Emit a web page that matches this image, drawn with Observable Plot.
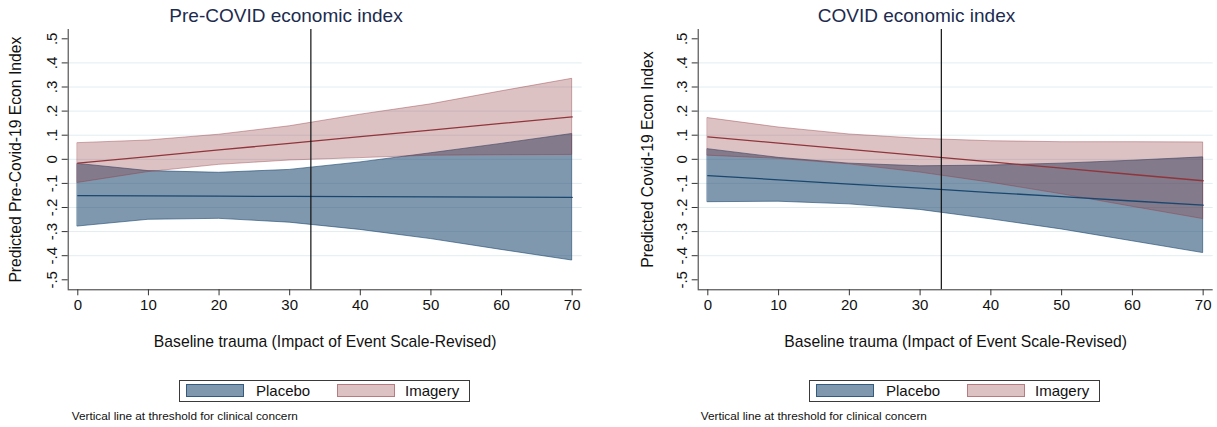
<!DOCTYPE html>
<html>
<head>
<meta charset="utf-8">
<script src="https://cdn.jsdelivr.net/npm/d3@7"></script>
<script src="https://cdn.jsdelivr.net/npm/@observablehq/plot@0.6"></script>
<style>
  body { margin: 0; background: #fff; font-family: "Liberation Sans", Arial, Helvetica, sans-serif; }
  #root { position: relative; width: 1217px; height: 427px; overflow: hidden; background: #fff; }
  .panel { position: absolute; top: 0; }
  .legend { position: absolute; top: 380px; width: 291px; height: 22px; border: 1px solid #3a3a3a; box-sizing: border-box; }
  .sw { position: absolute; top: 3px; width: 58px; height: 13px; box-sizing: border-box; }
  .lt { position: absolute; top: 0; line-height: 19px; font-size: 15px; color: #111; }
  .caption { position: absolute; top: 409px; font-size: 11.8px; color: #111; white-space: nowrap; }
</style>
</head>
<body>
<div id="root"></div>
<script>
// ---- data ----
const xs = [0, 10, 20, 30, 40, 50, 60, 70];
const xTicks = [0, 10, 20, 30, 40, 50, 60, 70];
const yTicks = [-0.5, -0.4, -0.3, -0.2, -0.1, 0, 0.1, 0.2, 0.3, 0.4, 0.5];
const yTickLabels = ["-.5", "-.4", "-.3", "-.2", "-.1", "0", ".1", ".2", ".3", ".4", ".5"];
const yGrid = [-0.4, -0.3, -0.2, -0.1, 0, 0.1, 0.2, 0.3, 0.4];
const threshold = 33;
const seriesNames = ["Placebo", "Imagery"];

// Pre-COVID economic index
const prePlaceboMean  = [-0.151, -0.152, -0.153, -0.154, -0.155, -0.156, -0.157, -0.158];
const prePlaceboUpper = [-0.019, -0.049, -0.056, -0.044, -0.013, 0.025, 0.064, 0.105];
const prePlaceboLower = [-0.279, -0.251, -0.247, -0.263, -0.293, -0.331, -0.376, -0.420];
const preImageryMean  = [-0.016, 0.011, 0.039, 0.066, 0.094, 0.121, 0.149, 0.176];
const preImageryUpper = [0.067, 0.078, 0.102, 0.137, 0.185, 0.228, 0.282, 0.334];
const preImageryLower = [-0.098, -0.053, -0.023, -0.005, 0.005, 0.015, 0.017, 0.018];

// COVID economic index
const covPlaceboMean  = [-0.068, -0.085, -0.103, -0.120, -0.138, -0.155, -0.173, -0.190];
const covPlaceboUpper = [0.042, 0.006, -0.018, -0.029, -0.026, -0.018, -0.006, 0.008];
const covPlaceboLower = [-0.178, -0.176, -0.187, -0.210, -0.249, -0.291, -0.340, -0.389];
const covImageryMean  = [0.093, 0.067, 0.041, 0.015, -0.011, -0.037, -0.063, -0.089];
const covImageryUpper = [0.171, 0.132, 0.103, 0.085, 0.075, 0.071, 0.071, 0.070];
const covImageryLower = [0.015, 0.002, -0.021, -0.055, -0.097, -0.145, -0.197, -0.248];

const titles = ["Pre-COVID economic index", "COVID economic index"];
const yLabels = ["Predicted Pre-Covid-19 Econ Index", "Predicted Covid-19 Econ Index"];
const xLabel = "Baseline trauma (Impact of Event Scale-Revised)";
const captionText = "Vertical line at threshold for clinical concern";

// ---- style ----
const navy = "#1a476f";
const maroon = "#90353b";
const titleColor = "#1c2b4e";
const font = '"Liberation Sans", Arial, Helvetica, sans-serif';
const xDomain = [-1.36, 71.42];
const yDomain = [-0.5415, 0.5386];

function rows(mean, lo, hi) {
  return xs.map((x, i) => ({ x, m: mean[i], lo: lo[i], hi: hi[i] }));
}

function panel(cfg) {
  const placebo = rows(cfg.pm, cfg.pl, cfg.pu);
  const imagery = rows(cfg.im, cfg.il, cfg.iu);
  return Plot.plot({
    width: cfg.width,
    height: 360,
    marginLeft: 67.7,
    marginRight: cfg.marginRight,
    marginTop: 29,
    marginBottom: 70.7,
    x: { domain: xDomain, axis: null },
    y: { domain: yDomain, axis: null },
    style: { fontFamily: font, background: "transparent", color: "#111", overflow: "visible" },
    marks: [
      Plot.gridY(yGrid, { stroke: "#e2edf0", strokeOpacity: 1, strokeWidth: 1 }),
      Plot.areaY(placebo, { x: "x", y1: "lo", y2: "hi", fill: navy, fillOpacity: 0.56, stroke: navy, strokeOpacity: 0.6, strokeWidth: 1 }),
      Plot.areaY(imagery, { x: "x", y1: "lo", y2: "hi", fill: maroon, fillOpacity: 0.3, stroke: maroon, strokeOpacity: 0.4, strokeWidth: 1 }),
      Plot.lineY(placebo, { x: "x", y: "m", stroke: navy, strokeWidth: 1.3 }),
      Plot.lineY(imagery, { x: "x", y: "m", stroke: maroon, strokeWidth: 1.3 }),
      Plot.ruleX([threshold], { stroke: "#111", strokeWidth: 1.2 }),
      Plot.ruleX([xDomain[0]], { stroke: "#333", strokeWidth: 1 }),
      Plot.ruleY([yDomain[0]], { stroke: "#333", strokeWidth: 1 }),
      Plot.axisX(xTicks, { tickSize: 6, tickPadding: 4, fontSize: 15, label: null, stroke: "#333" }),
      Plot.axisY(yTicks, { tickSize: 6, tickFormat: () => "", label: null, stroke: "#333" }),
      Plot.text(yTicks, { y: d => d, text: (d, i) => yTickLabels[i], frameAnchor: "left", dx: -15.7, rotate: -90, fontSize: 15, textAnchor: "middle", lineAnchor: "middle" }),
      Plot.text([cfg.ylabel], { text: d => d, frameAnchor: "left", dx: cfg.ylabDx, rotate: -90, fontSize: 15.7, textAnchor: "middle", lineAnchor: "middle" }),
      Plot.text([xLabel], { text: d => d, frameAnchor: "bottom", dy: 52.4, fontSize: 15.7, lineAnchor: "middle" }),
      Plot.text([cfg.title], { text: d => d, frameAnchor: "top", dx: -39.2, dy: -14, fontSize: 19, fill: titleColor, lineAnchor: "middle" })
    ]
  });
}

const root = document.getElementById("root");
const configs = [
  { left: 0, width: 600, marginRight: 18.3, title: titles[0], ylabel: yLabels[0], ylabDx: -52.7,
    pm: prePlaceboMean, pl: prePlaceboLower, pu: prePlaceboUpper,
    im: preImageryMean, il: preImageryLower, iu: preImageryUpper, capLeft: 71.7 },
  { left: 630, width: 587, marginRight: 4.3, title: titles[1], ylabel: yLabels[1], ylabDx: -50.7,
    pm: covPlaceboMean, pl: covPlaceboLower, pu: covPlaceboUpper,
    im: covImageryMean, il: covImageryLower, iu: covImageryUpper, capLeft: 70.7 }
];

for (const cfg of configs) {
  const div = document.createElement("div");
  div.className = "panel";
  div.style.left = cfg.left + "px";
  div.appendChild(panel(cfg));
  root.appendChild(div);

  const lg = document.createElement("div");
  lg.className = "legend";
  lg.style.left = (cfg.left + 179) + "px";
  const items = [
    { name: seriesNames[0], fill: "rgba(26,71,111,0.56)", border: "rgba(26,71,111,0.75)", sx: 6, tx: 76 },
    { name: seriesNames[1], fill: "rgba(144,53,59,0.3)", border: "rgba(144,53,59,0.5)", sx: 157, tx: 225 }
  ];
  for (const it of items) {
    const sw = document.createElement("div");
    sw.className = "sw";
    sw.style.left = it.sx + "px";
    sw.style.background = it.fill;
    sw.style.border = "1px solid " + it.border;
    lg.appendChild(sw);
    const t = document.createElement("div");
    t.className = "lt";
    t.style.left = it.tx + "px";
    t.textContent = it.name;
    lg.appendChild(t);
  }
  root.appendChild(lg);

  const cap = document.createElement("div");
  cap.className = "caption";
  cap.style.left = (cfg.left + cfg.capLeft) + "px";
  cap.textContent = captionText;
  root.appendChild(cap);
}
</script>
</body>
</html>
